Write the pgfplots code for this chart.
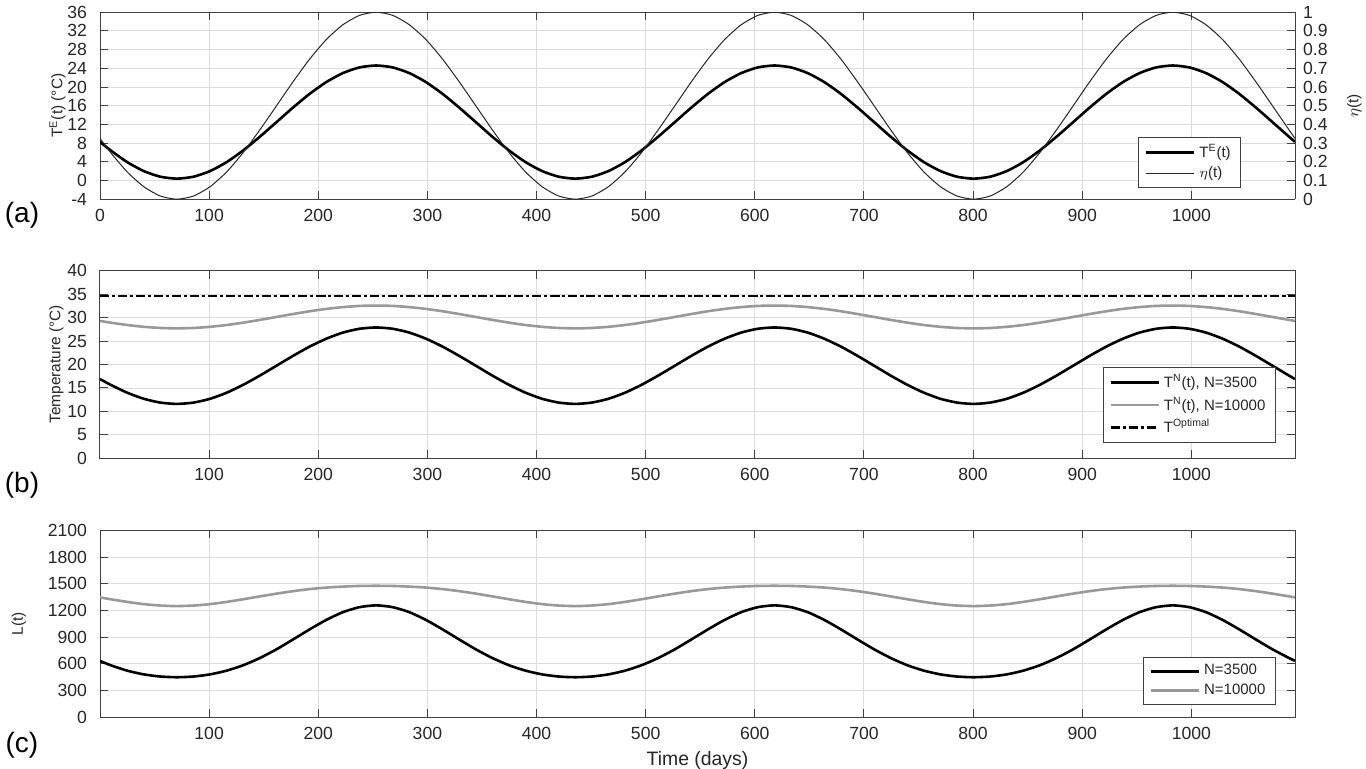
\documentclass[border=0pt]{standalone}
\usepackage{fontspec}
\setmainfont{Liberation Sans}
\usepackage{pgfplots}
\usepackage{pgfplotstable}
\pgfplotsset{compat=1.18}

\definecolor{lgray}{gray}{0.6}

% panel (a): outdoor temperature and efficiency
\pgfplotstableread{
t      TE     eta
0      8.26   0.325
9.7    6.45   0.250
24.9   3.94   0.146
40.1   2.02   0.067
55.3   0.81   0.017
70.5   0.40   0.000
85.7   0.81   0.017
100.9  2.02   0.067
116.1  3.94   0.146
131.3  6.45   0.250
146.5  9.37   0.371
161.8  12.50  0.500
177.0  15.63  0.629
192.2  18.55  0.750
207.4  21.06  0.854
222.6  22.98  0.933
237.8  24.19  0.983
253.0  24.60  1.000
268.2  24.19  0.983
283.4  22.98  0.933
298.6  21.06  0.854
313.8  18.55  0.750
329.0  15.63  0.629
344.3  12.50  0.500
359.5  9.37   0.371
374.7  6.45   0.250
389.9  3.94   0.146
405.1  2.02   0.067
420.3  0.81   0.017
435.5  0.40   0.000
450.7  0.81   0.017
465.9  2.02   0.067
481.1  3.94   0.146
496.3  6.45   0.250
511.5  9.37   0.371
526.8  12.50  0.500
542.0  15.63  0.629
557.2  18.55  0.750
572.4  21.06  0.854
587.6  22.98  0.933
602.8  24.19  0.983
618.0  24.60  1.000
633.2  24.19  0.983
648.4  22.98  0.933
663.6  21.06  0.854
678.8  18.55  0.750
694.0  15.63  0.629
709.3  12.50  0.500
724.5  9.37   0.371
739.7  6.45   0.250
754.9  3.94   0.146
770.1  2.02   0.067
785.3  0.81   0.017
800.5  0.40   0.000
815.7  0.81   0.017
830.9  2.02   0.067
846.1  3.94   0.146
861.3  6.45   0.250
876.5  9.37   0.371
891.8  12.50  0.500
907.0  15.63  0.629
922.2  18.55  0.750
937.4  21.06  0.854
952.6  22.98  0.933
967.8  24.19  0.983
983.0  24.60  1.000
998.2  24.19  0.983
1013.4 22.98  0.933
1028.6 21.06  0.854
1043.8 18.55  0.750
1059.0 15.63  0.629
1074.3 12.50  0.500
1089.5 9.37   0.371
1095   8.26   0.325
}\tblA

% panel (b): greenhouse temperature
\pgfplotstableread{
t      Ta     Tb
0      16.90  29.29
9.7    15.68  28.93
24.9   13.99  28.42
40.1   12.69  28.04
55.3   11.88  27.79
70.5   11.60  27.71
85.7   11.88  27.79
100.9  12.69  28.04
116.1  13.99  28.42
131.3  15.68  28.93
146.5  17.64  29.51
161.8  19.75  30.14
177.0  21.86  30.77
192.2  23.83  31.36
207.4  25.51  31.86
222.6  26.81  32.24
237.8  27.62  32.49
253.0  27.90  32.57
268.2  27.62  32.49
283.4  26.81  32.24
298.6  25.51  31.86
313.8  23.83  31.36
329.0  21.86  30.77
344.3  19.75  30.14
359.5  17.64  29.51
374.7  15.68  28.93
389.9  13.99  28.42
405.1  12.69  28.04
420.3  11.88  27.79
435.5  11.60  27.71
450.7  11.88  27.79
465.9  12.69  28.04
481.1  13.99  28.42
496.3  15.68  28.93
511.5  17.64  29.51
526.8  19.75  30.14
542.0  21.86  30.77
557.2  23.83  31.36
572.4  25.51  31.86
587.6  26.81  32.24
602.8  27.62  32.49
618.0  27.90  32.57
633.2  27.62  32.49
648.4  26.81  32.24
663.6  25.51  31.86
678.8  23.83  31.36
694.0  21.86  30.77
709.3  19.75  30.14
724.5  17.64  29.51
739.7  15.68  28.93
754.9  13.99  28.42
770.1  12.69  28.04
785.3  11.88  27.79
800.5  11.60  27.71
815.7  11.88  27.79
830.9  12.69  28.04
846.1  13.99  28.42
861.3  15.68  28.93
876.5  17.64  29.51
891.8  19.75  30.14
907.0  21.86  30.77
922.2  23.83  31.36
937.4  25.51  31.86
952.6  26.81  32.24
967.8  27.62  32.49
983.0  27.90  32.57
998.2  27.62  32.49
1013.4 26.81  32.24
1028.6 25.51  31.86
1043.8 23.83  31.36
1059.0 21.86  30.77
1074.3 19.75  30.14
1089.5 17.64  29.51
1095   16.90  29.29
}\tblB

% panel (c): L(t)
\pgfplotstableread{
t      La     Lb
0      634    1346
9.7    585    1326
24.9   524    1296
40.1   482    1271
55.3   458    1255
70.5   450    1249
85.7   458    1255
100.9  482    1271
116.1  524    1296
131.3  585    1326
146.5  666    1358
161.8  764    1389
177.0  875    1417
192.2  988    1440
207.4  1094   1457
222.6  1181   1468
237.8  1237   1475
253.0  1257   1477
268.2  1237   1475
283.4  1181   1468
298.6  1094   1457
313.8  988    1440
329.0  875    1417
344.3  764    1389
359.5  666    1358
374.7  585    1326
389.9  524    1296
405.1  482    1271
420.3  458    1255
435.5  450    1249
450.7  458    1255
465.9  482    1271
481.1  524    1296
496.3  585    1326
511.5  666    1358
526.8  764    1389
542.0  875    1417
557.2  988    1440
572.4  1094   1457
587.6  1181   1468
602.8  1237   1475
618.0  1257   1477
633.2  1237   1475
648.4  1181   1468
663.6  1094   1457
678.8  988    1440
694.0  875    1417
709.3  764    1389
724.5  666    1358
739.7  585    1326
754.9  524    1296
770.1  482    1271
785.3  458    1255
800.5  450    1249
815.7  458    1255
830.9  482    1271
846.1  524    1296
861.3  585    1326
876.5  666    1358
891.8  764    1389
907.0  875    1417
922.2  988    1440
937.4  1094   1457
952.6  1181   1468
967.8  1237   1475
983.0  1257   1477
998.2  1237   1475
1013.4 1181   1468
1028.6 1094   1457
1043.8 988    1440
1059.0 875    1417
1074.3 764    1389
1089.5 666    1358
1095   634    1346
}\tblC

\pgfplotsset{
  panel/.style={
    scale only axis, width=597.5pt, anchor=south west,
    xmin=0, xmax=1095,
    tick align=inside,
    major tick length=4pt,
    axis line style={draw=black!75, line width=0.5pt},
    every tick/.style={draw=black!75, line width=0.5pt},
    ticklabel style={font=\fontsize{8.8}{10}\selectfont, text=black!85},
    /pgf/number format/assume math mode=true,
    /pgf/number format/1000 sep={},
    xticklabel style={yshift=-1.5pt},
    label style={font=\fontsize{7.7}{9}\selectfont, text=black!85},
    legend style={draw=black!75, line width=0.5pt,
      font=\fontsize{7.5}{8}\selectfont, text=black!85,
      inner xsep=3pt, inner ysep=1.5pt, row sep=-1pt,
      cells={anchor=west}},
    legend image code/.code={\draw[##1] (0pt,0pt) -- (24pt,0pt);},
    every axis plot/.append style={smooth, tension=0.4},
  },
  gridded/.style={grid=major, major grid style={draw=black!13, line width=0.45pt},
    yticklabel style={xshift=-3pt}},
}

\begin{document}
\begin{tikzpicture}
\useasboundingbox (0,0) rectangle (683pt,384pt);

% (a)
\begin{axis}[panel, gridded, at={(50pt,284.4pt)}, height=93.5pt,
  axis y line*=left,
  ymin=-4, ymax=36, ytick={-4,0,4,8,12,16,20,24,28,32,36},
  xtick={0,100,...,1000},
  ylabel={T\textsuperscript{E}(t) (°C)}, ylabel shift=-6pt]
\addplot[black, line width=1.3pt] table[x=t, y=TE] {\tblA};
\end{axis}
\begin{axis}[panel, at={(50pt,284.4pt)}, height=93.5pt,
  axis y line*=right, axis x line=none,
  ymin=0, ymax=1, ytick={0,0.1,0.2,0.3,0.4,0.5,0.6,0.7,0.8,0.9,1},
  yticklabel style={/pgf/number format/fixed, xshift=0.5pt},
  ylabel={$\eta$(t)}, ylabel shift=3pt,
  legend style={at={(0.955,0.06)}, anchor=south east}]
\addlegendimage{black, line width=1.3pt}
\addlegendentry{T\textsuperscript{E}(t)}
\addplot[black!85, line width=0.5pt] table[x=t, y=eta] {\tblA};
\addlegendentry{$\eta$(t)}
\end{axis}

% (b)
\begin{axis}[panel, gridded, at={(50pt,154.85pt)}, height=93.8pt,
  ymin=0, ymax=40, ytick={0,5,...,40},
  xtick={100,200,...,1000},
  ylabel={Temperature (°C)}, ylabel shift=-5pt,
  legend style={at={(0.984,0.08)}, anchor=south east}]
\addplot[black, line width=1.3pt] table[x=t, y=Ta] {\tblB};
\addlegendentry{T\textsuperscript{N}(t), N=3500}
\addplot[lgray, line width=1.3pt] table[x=t, y=Tb] {\tblB};
\addlegendentry{T\textsuperscript{N}(t), N=10000}
\addplot[black, line width=1.3pt, dash pattern=on 4.5pt off 1.5pt on 1.5pt off 1.5pt]
  coordinates {(0,34.6) (1095,34.6)};
\addlegendentry{T\textsuperscript{Optimal}}
\end{axis}

% (c)
\begin{axis}[panel, gridded, at={(50pt,25.35pt)}, height=93.5pt,
  ymin=0, ymax=2100, ytick={0,300,...,2100},
  xtick={100,200,...,1000},
  ylabel={L(t)}, ylabel shift=4pt,
  xlabel={Time (days)},
  xlabel style={font=\fontsize{9.7}{11}\selectfont, yshift=1pt},
  legend style={at={(0.984,0.066)}, anchor=south east}]
\addplot[black, line width=1.3pt] table[x=t, y=La] {\tblC};
\addlegendentry{N=3500}
\addplot[lgray, line width=1.3pt] table[x=t, y=Lb] {\tblC};
\addlegendentry{N=10000}
\end{axis}

\node[font=\fontsize{14}{16}\selectfont] at (11pt,276.5pt) {(a)};
\node[font=\fontsize{14}{16}\selectfont] at (11pt,141.5pt) {(b)};
\node[font=\fontsize{14}{16}\selectfont] at (11pt,11.5pt) {(c)};
\end{tikzpicture}
\end{document}
